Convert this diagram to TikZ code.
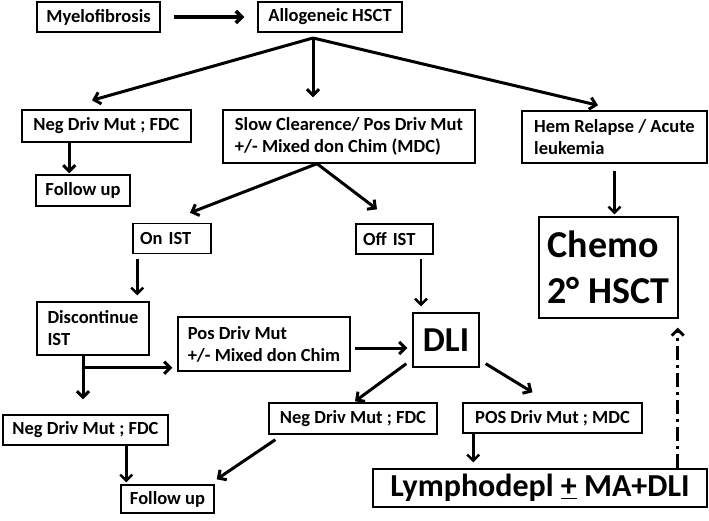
\documentclass[tikz,border=0pt]{standalone}
\usepackage{fontspec}
\setmainfont{Carlito}
\usetikzlibrary{arrows.meta}

\begin{document}
\begin{tikzpicture}[x=1pt,y=-1pt,>={Straight Barb[length=6pt,width=12pt]}]
	\tikzstyle{box}=[draw=black,line width=1.4pt,font=\bfseries\fontsize{18.5}{22}\selectfont,inner xsep=7pt,inner ysep=2pt]
	\tikzstyle{arr}=[->,line width=3pt]
	\tikzstyle{thin}=[->,line width=2.4pt]
	\useasboundingbox (0,0) rectangle (709,520);
	\node[box,minimum width=123pt,minimum height=30pt](mf) at (98.5,17) {Myelofibrosis};
	\node[box,minimum width=144pt,minimum height=30pt](hsct) at (330,17) {Allogeneic HSCT};
	\node[box,minimum width=169pt,minimum height=32pt](neg1) at (106.5,126) {Neg Driv Mut ; FDC};
	\node[box,minimum width=94pt,minimum height=31pt](fu1) at (83,190.5) {Follow up};
	\node[box,align=left,minimum width=252pt,minimum height=53pt](slow) at (349,136.5) {Slow Clearence/ Pos Driv Mut\\+/- Mixed don Chim (MDC)};
	\node[box,align=left,minimum width=185pt,minimum height=52pt](hem) at (614.5,137) {Hem Relapse / Acute\\leukemia};
	\node[box,align=left,minimum width=139pt,minimum height=101pt,font=\bfseries\fontsize{38}{46}\selectfont](chemo) at (608.5,267.5) {Chemo\\2° HSCT};
	\node[box,text width=64pt,align=left,minimum height=30pt](on) at (172,238.5) {On IST};
	\node[box,text width=63pt,align=left,minimum height=30pt](off) at (394.5,239) {Off IST};
	\node[box,align=left,minimum width=112pt,minimum height=53pt](disc) at (93,328.5) {Discontinue\\IST};
	\node[box,align=left,minimum width=172pt,minimum height=54pt](pos) at (264,344) {Pos Driv Mut\\+/- Mixed don Chim};
	\node[box,minimum width=66pt,minimum height=54pt,font=\bfseries\fontsize{35}{40}\selectfont](dli) at (446,340) {DLI};
	\node[box,minimum width=165pt,minimum height=30pt](neg2) at (85.5,430) {Neg Driv Mut ; FDC};
	\node[box,minimum width=93pt,minimum height=28pt](fu2) at (167.5,499) {Follow up};
	\node[box,minimum width=168pt,minimum height=31pt](neg3) at (353,418.5) {Neg Driv Mut ; FDC};
	\node[box,minimum width=179pt,minimum height=30pt](posm) at (552.5,418) {POS Driv Mut ; MDC};
	\node[box,minimum width=334pt,minimum height=38pt,font=\bfseries\fontsize{32}{36}\selectfont](lym) at (540,488) {Lymphodepl \underline{+} MA+DLI};
	% branch points
	\coordinate (sp) at (313,38);
	\coordinate (sp2) at ([xshift=-32pt]slow.south);
	\coordinate (sp3) at ([xshift=-10pt,yshift=-12pt]disc.south);
	\draw[arr,line width=3.6pt] ([xshift=13pt]mf.east) -- ([xshift=-13pt]hsct.west);
	\draw[arr] (sp) -- ([xshift=-14.5pt,yshift=9pt]neg1.north);
	\draw[arr] (sp) -- ([xshift=-36pt,yshift=12pt]slow.north);
	\draw[arr] (sp) -- ([xshift=-16.5pt,yshift=5pt]hem.north);
	\draw[arr] ([xshift=48pt]neg1.south west) -- ([xshift=34pt,yshift=1pt]fu1.north west);
	\draw[arr] (sp2) -- ([xshift=18pt,yshift=10pt]on.north);
	\draw[arr] (sp2) -- ([xshift=-17.5pt,yshift=14pt]off.north);
	\draw[thin] ([yshift=-7pt]hem.south) -- ([yshift=2pt]hem.south |- chemo.north);
	\draw[thin] ([xshift=5pt,yshift=-5pt]on.south west) -- ([xshift=5pt,yshift=6pt]on.south west |- disc.north);
	\draw[thin] ([xshift=-25pt,yshift=-4pt]dli.north |- off.south) -- ([xshift=-25pt,yshift=6pt]dli.north);
	\draw[arr] ([xshift=-10pt]disc.south) -- ([xshift=-10pt,yshift=15pt]disc.south |- neg2.north);
	\draw[arr] (sp3) -- ([xshift=-5pt]sp3 -| pos.west);
	\draw[arr] ([xshift=4pt,yshift=-4pt]pos.east) -- ([xshift=-5pt,yshift=-4pt]pos.east -| dli.west);
	\draw[arr] ([xshift=-6pt,yshift=4pt]dli.south west) -- ([xshift=2pt,yshift=1pt]neg3.north);
	\draw[arr] ([xshift=6pt,yshift=4pt]dli.south east) -- ([xshift=-20pt,yshift=10pt]posm.north);
	\draw[arr] ([xshift=7pt,yshift=-5pt]neg3.south west) -- ([xshift=2pt,yshift=5pt]fu2.north east);
	\draw[thin] ([xshift=124pt]neg2.south west) -- ([xshift=6pt,yshift=2pt]fu2.north west);
	\draw[thin] ([xshift=11pt]posm.south west) -- ([xshift=11pt,yshift=6pt]posm.south west |- lym.north);
	\draw[thin,line width=2.8pt,dash pattern=on 14pt off 5pt on 3pt off 5pt] ([xshift=-30pt]lym.north east) -- ([xshift=-1pt,yshift=-9pt]chemo.south east);
\end{tikzpicture}
\end{document}
